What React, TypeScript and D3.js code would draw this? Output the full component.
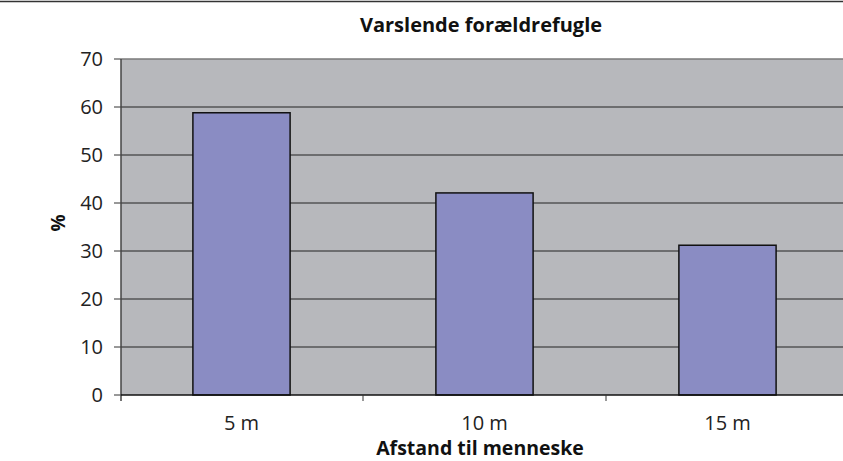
import React, { useLayoutEffect } from "react";
import * as d3 from "d3";

const categories = ["5 m", "10 m", "15 m"];
const values = [58.8, 42.1, 31.2];
const yTicks = [0, 10, 20, 30, 40, 50, 60, 70];
const title = "Varslende forældrefugle";
const xTitle = "Afstand til menneske";
const yTitle = "%";

const W = 843;
const H = 461;
const M = { left: 121, top: 59, bottom: 66 };
const X_RANGE_END = 849; // plot area continues slightly past the right edge
const FONT = "'Open Sans', 'DejaVu Sans', sans-serif";

export default function App() {
  useLayoutEffect(() => {
    document.body.style.margin = "0";
    document.body.style.overflow = "hidden";
    document.documentElement.style.overflow = "hidden";
  }, []);

  const x = d3
    .scaleBand<string>()
    .domain(categories)
    .range([M.left - 1, X_RANGE_END])
    .paddingInner(0.6)
    .paddingOuter(0.3);
  const y = d3.scaleLinear().domain([0, 70]).range([H - M.bottom, M.top]);
  const step = x.step();
  const bandStart = (c: string) => x(c)! - (step * x.paddingInner()) / 2;
  const y0 = y(0);

  return (
    <svg width={W} height={H} style={{ display: "block", background: "#fff" }}>
      <line x1={0} x2={W} y1={1.5} y2={1.5} stroke="#333" strokeWidth={1.5} />
      <rect x={M.left} y={M.top} width={W - M.left} height={y0 - M.top} fill="#b7b8bc" />
      {yTicks.map((t) => (
        <g key={t}>
          {t > 0 && (
            <line
              x1={M.left}
              x2={W}
              y1={y(t)}
              y2={y(t)}
              stroke={t === 70 ? "#7a7a7a" : "#222"}
              strokeWidth={t === 70 ? 1.5 : 1}
            />
          )}
          <line x1={M.left - 7} x2={M.left} y1={y(t)} y2={y(t)} stroke="#333" strokeWidth={1} />
          <text x={103} y={y(t)} dy="0.36em" textAnchor="end" fontFamily={FONT} fontSize={20} fill="#222">
            {t}
          </text>
        </g>
      ))}
      {categories.map((c, i) => (
        <rect
          key={c}
          x={x(c)}
          y={y(values[i])}
          width={x.bandwidth()}
          height={y0 - y(values[i])}
          fill="#8a8cc3"
          stroke="#111"
          strokeWidth={1.5}
        />
      ))}
      <line x1={M.left} x2={M.left} y1={M.top} y2={y0 + 6} stroke="#444" strokeWidth={1.5} />
      <line x1={M.left} x2={W} y1={y0} y2={y0} stroke="#111" strokeWidth={1.5} />
      {categories.map((c, i) =>
        i > 0 ? (
          <line
            key={"t" + c}
            x1={bandStart(c)}
            x2={bandStart(c)}
            y1={y0}
            y2={y0 + 6}
            stroke="#333"
            strokeWidth={1}
          />
        ) : null
      )}
      {categories.map((c) => (
        <text
          key={"l" + c}
          x={x(c)! + x.bandwidth() / 2}
          y={430}
          textAnchor="middle"
          fontFamily={FONT}
          fontSize={20}
          fill="#222"
        >
          {c}
        </text>
      ))}
      <text x={481} y={32} textAnchor="middle" fontFamily={FONT} fontSize={20} fontWeight="bold" fill="#111">
        {title}
      </text>
      <text x={480} y={455} textAnchor="middle" fontFamily={FONT} fontSize={19.5} fontWeight="bold" fill="#111">
        {xTitle}
      </text>
      <text
        transform={`translate(65,223) rotate(-90)`}
        textAnchor="middle"
        fontFamily={FONT}
        fontSize={19}
        fontWeight="bold"
        fill="#111"
      >
        {yTitle}
      </text>
    </svg>
  );
}
